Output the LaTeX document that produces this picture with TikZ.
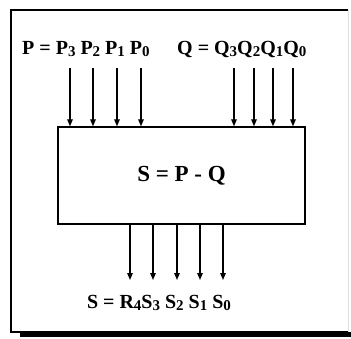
\documentclass[tikz,border=0pt]{standalone}
\usepackage{fontspec}
\setmainfont{Liberation Serif}
\usetikzlibrary{arrows.meta,positioning}
\newcommand\idx[1]{\raisebox{-0.3ex}{\fontsize{15}{15}\selectfont #1}}

\begin{document}
\begin{tikzpicture}[x=1pt, y=-1pt,
  blk/.style={draw, line width=1.3pt, minimum width=247pt, minimum height=97pt,
              font=\fontsize{23}{26}\selectfont\bfseries, inner sep=0pt},
  lbl/.style={font=\fontsize{20}{22}\selectfont\bfseries, inner sep=0pt},
  arr/.style={-{Triangle[length=7pt,width=5.5pt]}, line width=1.2pt},
]
\useasboundingbox (0,0) rectangle (351,338);
% --- Frame ---
\draw[line width=1.4pt] (348,10) -- (11,10) -- (11,332) -- (348,332);
\draw[gray!25, line width=0.8pt] (348,10) -- (348,332);
\fill (20,332) rectangle (351,337);

% --- Subtractor ---
\node[blk] (sub) at (181.5,175.5) {S = P - Q};

% --- Inputs ---
\node[lbl, anchor=west] (plbl) at (22,49) {P = P\idx{3} P\idx{2} P\idx{1} P\idx{0}};
\node[lbl, anchor=west] (qlbl) at (177,49) {Q = Q\idx{3}Q\idx{2}Q\idx{1}Q\idx{0}};
\coordinate (p3) at (70,68);
\coordinate (p2) at (93,68);
\coordinate (p1) at (117,68);
\coordinate (p0) at (141,68);
\coordinate (q3) at (234,68);
\coordinate (q2) at (254,68);
\coordinate (q1) at (273,68);
\coordinate (q0) at (293,68);
\foreach \c in {p3,p2,p1,p0,q3,q2,q1,q0}
  \draw[arr] (\c) -- (\c |- sub.north);

% --- Outputs ---
\node[lbl] (slbl) at (159,303) {S = R\idx{4}S\idx{3} S\idx{2} S\idx{1} S\idx{0}};
\coordinate (r4) at (130,280);
\coordinate (s3) at (153,280);
\coordinate (s2) at (177,280);
\coordinate (s1) at (200,280);
\coordinate (s0) at (223,280);
\foreach \c in {r4,s3,s2,s1,s0}
  \draw[arr] (\c |- sub.south) -- (\c);
\end{tikzpicture}
\end{document}
